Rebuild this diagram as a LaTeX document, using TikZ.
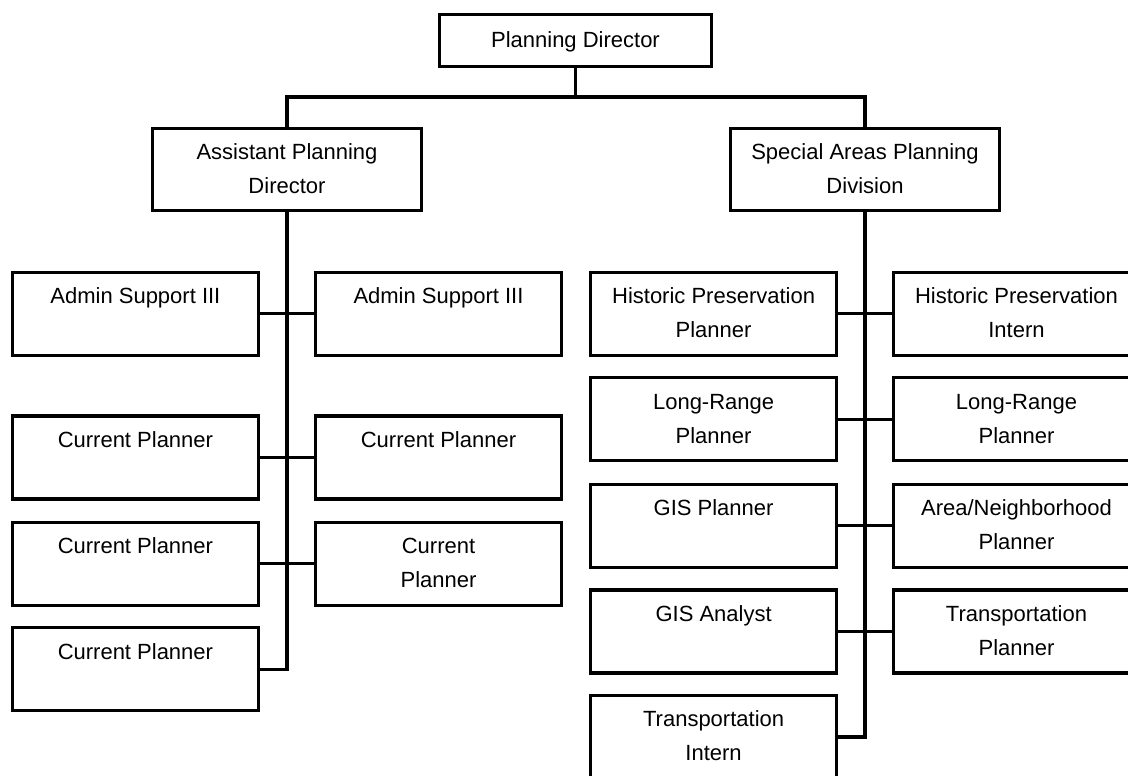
\documentclass[tikz,border=0pt]{standalone}
\usepackage{fontspec}
\setmainfont{Liberation Sans}
\newcommand{\twol}[2]{\strut #1\\\strut #2}
\begin{document}
\begin{tikzpicture}[x=1pt,y=-1pt,
  box/.style={draw, line width=3.4pt, inner sep=0pt, minimum width=246pt, minimum height=83pt, align=center, font=\fontsize{22}{34}\selectfont},
  headbox/.style={box, minimum width=268.5pt, minimum height=81.5pt},
  link/.style={line width=3.1pt, line join=miter}]
\clip (0,0) rectangle (1128,776);
\fill[white] (0,0) rectangle (1128,776);
% top level
\node[box, minimum width=271.5pt, minimum height=52pt] (dir) at (575.5,40.3) {\strut Planning Director};
\node[headbox] (asst) at (287,169.5) {\twol{Assistant Planning}{Director}};
\node[headbox] (spec) at (865,169.5) {\twol{Special Areas Planning}{Division}};
% left group
\node[box] (adL) at (135.4,313.7) {\twol{Admin Support III}{}};
\node[box] (adR) at (438.5,313.7) {\twol{Admin Support III}{}};
\node[box] (cp1L) at (135.4,457.3) {\twol{Current Planner}{}};
\node[box] (cp1R) at (438.5,457.3) {\twol{Current Planner}{}};
\node[box] (cp2L) at (135.4,563.7) {\twol{Current Planner}{}};
\node[box] (cp2R) at (438.5,563.7) {\twol{Current}{Planner}};
\node[box] (cp3L) at (135.4,669.2) {\twol{Current Planner}{}};
% right group
\node[box] (hpL) at (713.6,313.7) {\twol{Historic Preservation}{Planner}};
\node[box] (hpR) at (1016.5,313.7) {\twol{Historic Preservation}{Intern}};
\node[box] (lrL) at (713.6,419.2) {\twol{Long-Range}{Planner}};
\node[box] (lrR) at (1016.5,419.2) {\twol{Long-Range}{Planner}};
\node[box] (gisL) at (713.6,525.8) {\twol{GIS Planner}{}};
\node[box] (gisR) at (1016.5,525.8) {\twol{Area/Neighborhood}{Planner}};
\node[box] (gaL) at (713.6,631.3) {\twol{GIS Analyst}{}};
\node[box] (gaR) at (1016.5,631.3) {\twol{Transportation}{Planner}};
\node[box] (ti) at (713.6,737) {\twol{Transportation}{Intern}};
% connectors
\coordinate (j0) at (575.5,97);
\draw[link] (dir.south) -- (j0);
\draw[link] (asst.north) |- (j0) -| (spec.north);
\draw[link] (asst.south) |- (cp3L.east);
\draw[link] (adL.east) -- (adR.west);
\draw[link] (cp1L.east) -- (cp1R.west);
\draw[link] (cp2L.east) -- (cp2R.west);
\draw[link] (spec.south) |- (ti.east);
\draw[link] (hpL.east) -- (hpR.west);
\draw[link] (lrL.east) -- (lrR.west);
\draw[link] (gisL.east) -- (gisR.west);
\draw[link] (gaL.east) -- (gaR.west);
\end{tikzpicture}
\end{document}
